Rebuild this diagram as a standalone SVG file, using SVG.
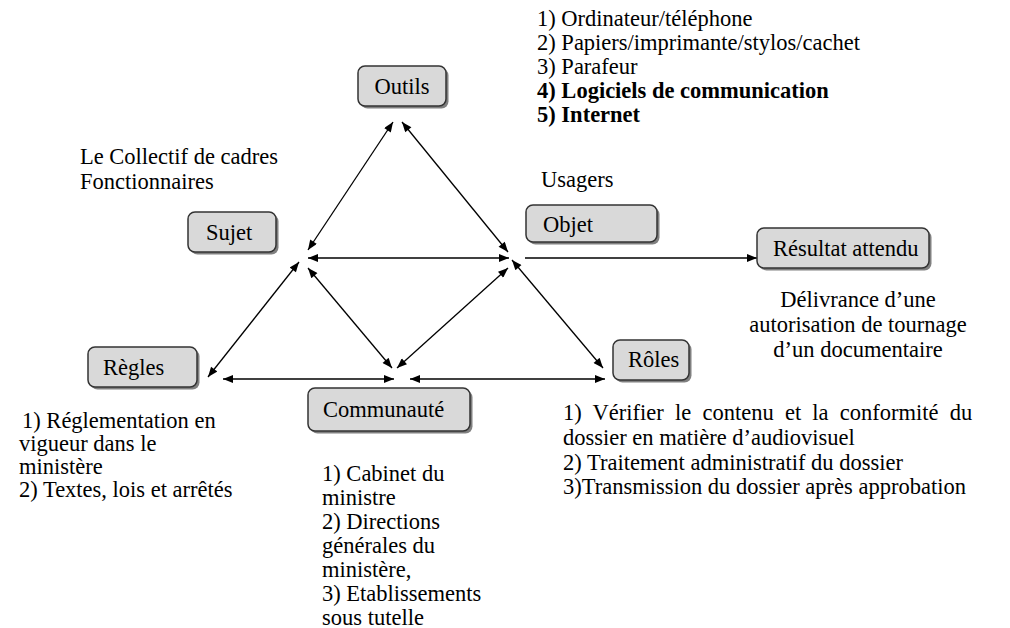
<svg xmlns="http://www.w3.org/2000/svg" width="1010" height="628" viewBox="0 0 1010 628">
<style>
text{font-family:"Liberation Serif","Times New Roman",serif;font-size:22.5px;fill:#000}
.b{font-weight:bold}
.box{fill:#d9d9d9;stroke:#333;stroke-width:1.5}
.sh{fill:#808080}
.ln{stroke:#000;stroke-width:1.3;fill:none}
</style>
<defs>
<marker id="ah" viewBox="0 0 10 8" refX="10" refY="4" markerWidth="11" markerHeight="8" markerUnits="userSpaceOnUse" orient="auto-start-reverse">
<path d="M0,0 L10,4 L0,8 z" fill="#000"/>
</marker>
</defs>
<rect width="1010" height="628" fill="#fff"/>

<g id="connectors">
<line class="ln" x1="393" y1="122" x2="308" y2="250" marker-start="url(#ah)" marker-end="url(#ah)"/>
<line class="ln" x1="402" y1="122" x2="508" y2="252" marker-start="url(#ah)" marker-end="url(#ah)"/>
<line class="ln" x1="308" y1="258" x2="509" y2="258" marker-start="url(#ah)" marker-end="url(#ah)"/>
<line class="ln" x1="525" y1="258" x2="757" y2="258" marker-end="url(#ah)"/>
<line class="ln" x1="208" y1="377" x2="299" y2="262" marker-start="url(#ah)" marker-end="url(#ah)"/>
<line class="ln" x1="308" y1="268" x2="392" y2="368" marker-start="url(#ah)" marker-end="url(#ah)"/>
<line class="ln" x1="508" y1="268" x2="397" y2="368" marker-start="url(#ah)" marker-end="url(#ah)"/>
<line class="ln" x1="512" y1="260" x2="603" y2="368" marker-start="url(#ah)" marker-end="url(#ah)"/>
<line class="ln" x1="223" y1="379" x2="394" y2="379" marker-start="url(#ah)" marker-end="url(#ah)"/>
<line class="ln" x1="410" y1="379" x2="605" y2="379" marker-start="url(#ah)" marker-end="url(#ah)"/>
</g>

<g id="outils">
<rect class="sh" x="360.5" y="68.5" width="88" height="40" rx="7"/>
<rect class="box" x="358" y="66" width="88" height="40" rx="7"/>
<text x="402" y="94" text-anchor="middle">Outils</text>
</g>
<g id="outils-list">
<text x="537" y="26">1) Ordinateur/téléphone</text>
<text x="537" y="50">2) Papiers/imprimante/stylos/cachet</text>
<text x="537" y="74">3) Parafeur</text>
<text x="537" y="98" class="b">4) Logiciels de communication</text>
<text x="537" y="122" class="b">5) Internet</text>
</g>

<g id="sujet">
<rect class="sh" x="190.5" y="214.5" width="88" height="40" rx="7"/>
<rect class="box" x="188" y="212" width="88" height="40" rx="7"/>
<text x="206" y="240">Sujet</text>
</g>
<g id="sujet-label">
<text x="80" y="164">Le Collectif de cadres</text>
<text x="80" y="189">Fonctionnaires</text>
</g>

<g id="objet">
<rect class="sh" x="528.5" y="207.5" width="131" height="37" rx="7"/>
<rect class="box" x="526" y="205" width="131" height="37" rx="7"/>
<text x="543" y="232">Objet</text>
</g>
<g id="objet-label">
<text x="541" y="187">Usagers</text>
</g>

<g id="resultat">
<rect class="sh" x="759.5" y="230.5" width="172" height="40" rx="7"/>
<rect class="box" x="757" y="228" width="172" height="40" rx="7"/>
<text x="773" y="256">Résultat attendu</text>
</g>
<g id="resultat-label">
<text x="858" y="307" text-anchor="middle">Délivrance d’une</text>
<text x="858" y="332" text-anchor="middle">autorisation de tournage</text>
<text x="858" y="357" text-anchor="middle">d’un documentaire</text>
</g>

<g id="regles">
<rect class="sh" x="90.5" y="349.5" width="109" height="40" rx="7"/>
<rect class="box" x="88" y="347" width="109" height="40" rx="7"/>
<text x="103" y="375">Règles</text>
</g>
<g id="regles-list">
<text x="22" y="428">1) Réglementation en</text>
<text x="19" y="451">vigueur dans le</text>
<text x="19" y="474">ministère</text>
<text x="19" y="497">2) Textes, lois et arrêtés</text>
</g>

<g id="communaute">
<rect class="sh" x="310.5" y="390.5" width="162" height="43" rx="7"/>
<rect class="box" x="308" y="388" width="162" height="43" rx="7"/>
<text x="323" y="417">Communauté</text>
</g>
<g id="communaute-list">
<text x="322" y="481">1) Cabinet du</text>
<text x="322" y="505">ministre</text>
<text x="322" y="529">2) Directions</text>
<text x="322" y="553">générales du</text>
<text x="322" y="577">ministère,</text>
<text x="322" y="601">3) Etablissements</text>
<text x="322" y="625">sous tutelle</text>
</g>

<g id="roles">
<rect class="sh" x="615.5" y="342.5" width="76" height="40" rx="7"/>
<rect class="box" x="613" y="340" width="76" height="40" rx="7"/>
<text x="628" y="367">Rôles</text>
</g>
<g id="roles-list">
<text x="563" y="420" word-spacing="5.6">1) Vérifier le contenu et la conformité du</text>
<text x="563" y="445">dossier en matière d’audiovisuel</text>
<text x="563" y="470">2) Traitement administratif du dossier</text>
<text x="563" y="494">3)Transmission du dossier après approbation</text>
</g>
</svg>
